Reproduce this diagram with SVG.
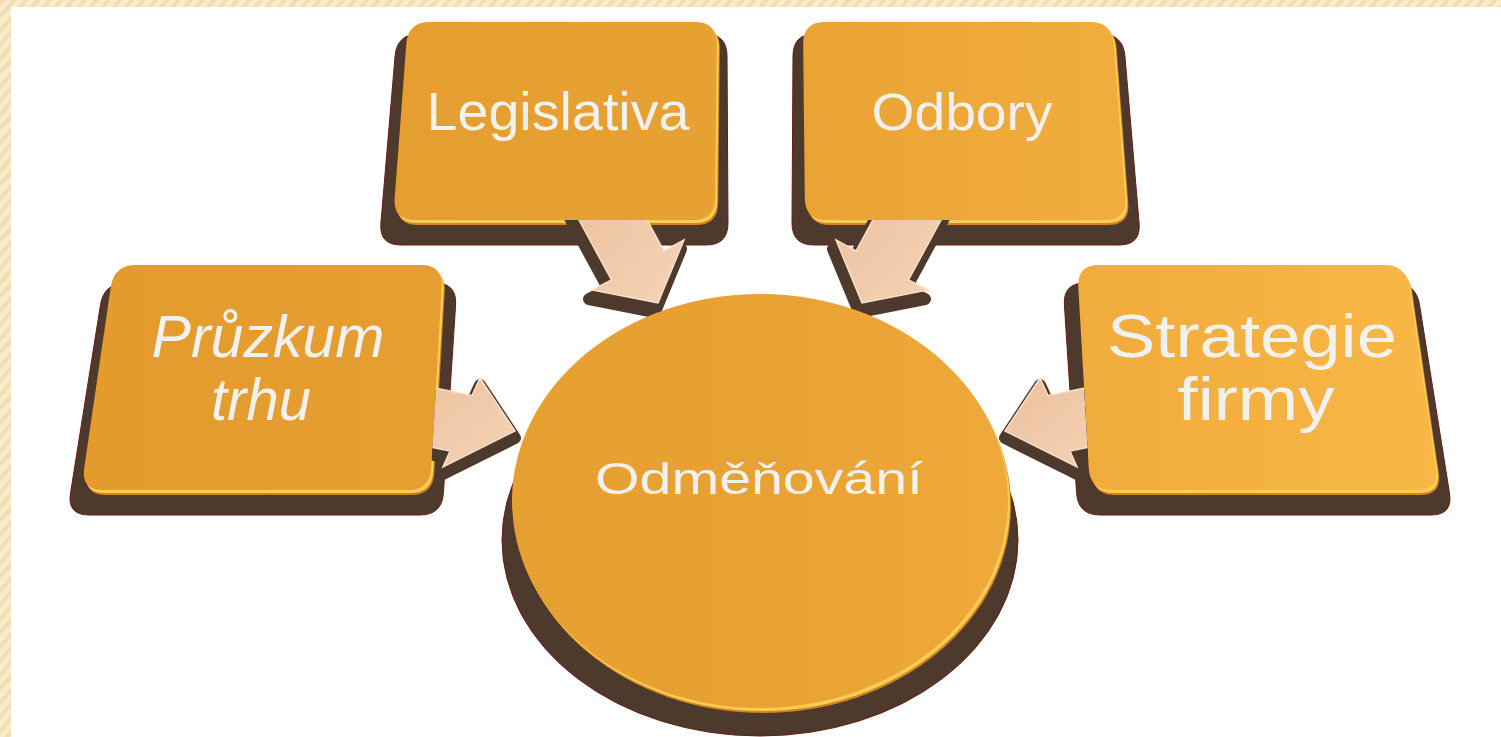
<svg xmlns="http://www.w3.org/2000/svg" width="1501" height="737" viewBox="0 0 1501 737">
  <defs>
    <style>
      .label { font-family: "Liberation Sans", Arial, sans-serif; fill: #F1F1EF; text-anchor: middle; }
      .ital { font-style: italic; }
      .depth { fill: #4E3A2D; stroke: #6A1A12; stroke-width: 1; }
      .rim-dark { fill: #CF861E; }
      .rim-light { fill: #FFCC55; }
      .face { fill: url(#faceFill); }
      .arrow { fill: url(#arrowFill); stroke: #F8E0C9; stroke-width: 1.5; stroke-linejoin: miter; }
      .arrow-depth { fill: #4E3A2D; stroke: #4E3A2D; stroke-width: 12; stroke-linejoin: round; }
    </style>
    <linearGradient id="faceFill" gradientUnits="userSpaceOnUse" x1="80" y1="0" x2="1440" y2="0">
      <stop offset="0" stop-color="#E29B2C"/>
      <stop offset="0.5" stop-color="#E8A233"/>
      <stop offset="1" stop-color="#F8B747"/>
    </linearGradient>
    <linearGradient id="arrowFill" x1="0" y1="0" x2="1" y2="1">
      <stop offset="0" stop-color="#EBC09E"/>
      <stop offset="1" stop-color="#F5D4B6"/>
    </linearGradient>
    <pattern id="paper" patternUnits="userSpaceOnUse" width="9" height="9" patternTransform="rotate(40)">
      <rect width="9" height="9" fill="#F9ECCB"/>
      <rect width="4" height="9" fill="#F1DEAF"/>
    </pattern>
    <!-- everything except the four box tops, so arrows tuck under them -->
    <clipPath id="outsideFaces">
      <path clip-rule="evenodd" d="M0,0 H1501 V737 H0 Z
        M430,22 L695,22 Q717,22 716.8,44 L715.2,198 Q715,220 693,220 L415,220 Q393,220 394.7,198.1 L406.3,43.9 Q408,22 430,22 Z
        M1090,22 L825,22 Q803,22 803.2,44 L804.8,198 Q805,220 827,220 L1105,220 Q1127,220 1125.3,198.1 L1113.7,43.9 Q1112,22 1090,22 Z
        M136,265 L421,265 Q443,265 441.7,287 L431.3,468 Q430,490 408,490 L103,490 Q81,490 84.2,468.2 L110.8,286.8 Q114,265 136,265 Z
        M1384,265 L1099,265 Q1077,265 1078.3,287 L1088.7,468 Q1090,490 1112,490 L1417,490 Q1439,490 1435.8,468.2 L1409.2,286.8 Q1406,265 1384,265 Z"/>
    </clipPath>
  </defs>

  <!-- page -->
  <rect x="0" y="0" width="1501" height="737" fill="url(#paper)"/>
  <rect x="11" y="7" width="1490" height="730" fill="#FFFFFF"/>

  <g id="node-legislativa">
    <path class="depth" d="M419,34 L705,34 Q727,34 727,56 L728,223 Q728,245 706,245 L401,245 Q379,245 380.9,223.1 L395.1,55.9 Q397,34 419,34 Z"/>
    <path class="rim-dark" transform="translate(3,5)" d="M430,22 L695,22 Q717,22 716.8,44 L715.2,198 Q715,220 693,220 L415,220 Q393,220 394.7,198.1 L406.3,43.9 Q408,22 430,22 Z"/>
    <path class="rim-light" transform="translate(2,3)" d="M430,22 L695,22 Q717,22 716.8,44 L715.2,198 Q715,220 693,220 L415,220 Q393,220 394.7,198.1 L406.3,43.9 Q408,22 430,22 Z"/>
    <path class="face" d="M430,22 L695,22 Q717,22 716.8,44 L715.2,198 Q715,220 693,220 L415,220 Q393,220 394.7,198.1 L406.3,43.9 Q408,22 430,22 Z"/>
    <text class="label" x="558" y="130" font-size="53" textLength="263" lengthAdjust="spacingAndGlyphs">Legislativa</text>
  </g>

  <g id="node-odbory">
    <path class="depth" d="M1101,34 L815,34 Q793,34 793,56 L792,223 Q792,245 814,245 L1119,245 Q1141,245 1139.1,223.1 L1124.9,55.9 Q1123,34 1101,34 Z"/>
    <path class="rim-dark" transform="translate(3,5)" d="M1090,22 L825,22 Q803,22 803.2,44 L804.8,198 Q805,220 827,220 L1105,220 Q1127,220 1125.3,198.1 L1113.7,43.9 Q1112,22 1090,22 Z"/>
    <path class="rim-light" transform="translate(2,3)" d="M1090,22 L825,22 Q803,22 803.2,44 L804.8,198 Q805,220 827,220 L1105,220 Q1127,220 1125.3,198.1 L1113.7,43.9 Q1112,22 1090,22 Z"/>
    <path class="face" d="M1090,22 L825,22 Q803,22 803.2,44 L804.8,198 Q805,220 827,220 L1105,220 Q1127,220 1125.3,198.1 L1113.7,43.9 Q1112,22 1090,22 Z"/>
    <text class="label" x="962" y="130" font-size="52" textLength="181" lengthAdjust="spacingAndGlyphs">Odbory</text>
  </g>

  <g id="node-pruzkum-trhu">
    <path class="depth" d="M126,283 L435,283 Q457,283 455.6,305 L443.4,493 Q442,515 420,515 L89,515 Q67,515 70.5,493.3 L100.5,304.7 Q104,283 126,283 Z"/>
    <path class="rim-dark" transform="translate(3,5)" d="M136,265 L421,265 Q443,265 441.7,287 L431.3,468 Q430,490 408,490 L103,490 Q81,490 84.2,468.2 L110.8,286.8 Q114,265 136,265 Z"/>
    <path class="rim-light" transform="translate(2,3)" d="M136,265 L421,265 Q443,265 441.7,287 L431.3,468 Q430,490 408,490 L103,490 Q81,490 84.2,468.2 L110.8,286.8 Q114,265 136,265 Z"/>
    <path class="face" d="M136,265 L421,265 Q443,265 441.7,287 L431.3,468 Q430,490 408,490 L103,490 Q81,490 84.2,468.2 L110.8,286.8 Q114,265 136,265 Z"/>
    <text class="label ital" x="268" y="357" font-size="59" textLength="233" lengthAdjust="spacingAndGlyphs">Průzkum</text>
    <text class="label ital" x="261" y="420" font-size="59" textLength="100" lengthAdjust="spacingAndGlyphs">trhu</text>
  </g>

  <g id="node-strategie-firmy">
    <path class="depth" d="M1394,283 L1085,283 Q1063,283 1064.4,305 L1076.6,493 Q1078,515 1100,515 L1431,515 Q1453,515 1449.5,493.3 L1419.5,304.7 Q1416,283 1394,283 Z"/>
    <path class="rim-dark" transform="translate(3,5)" d="M1384,265 L1099,265 Q1077,265 1078.3,287 L1088.7,468 Q1090,490 1112,490 L1417,490 Q1439,490 1435.8,468.2 L1409.2,286.8 Q1406,265 1384,265 Z"/>
    <path class="rim-light" transform="translate(2,3)" d="M1384,265 L1099,265 Q1077,265 1078.3,287 L1088.7,468 Q1090,490 1112,490 L1417,490 Q1439,490 1435.8,468.2 L1409.2,286.8 Q1406,265 1384,265 Z"/>
    <path class="face" d="M1384,265 L1099,265 Q1077,265 1078.3,287 L1088.7,468 Q1090,490 1112,490 L1417,490 Q1439,490 1435.8,468.2 L1409.2,286.8 Q1406,265 1384,265 Z"/>
    <text class="label" x="1252" y="357" font-size="61" textLength="290" lengthAdjust="spacingAndGlyphs">Strategie</text>
    <text class="label" x="1256" y="420" font-size="61" textLength="157" lengthAdjust="spacingAndGlyphs">firmy</text>
  </g>

  <!-- block arrows pointing into the centre; they start under the box tops -->
  <g id="connectors" clip-path="url(#outsideFaces)">
    <g id="arrow-legislativa">
      <polygon class="arrow-depth" transform="translate(-3,9)" points="573,209 611.5,280 592,290 658,303 684,240 664,251 626,181"/>
      <polygon class="arrow" points="573,209 611.5,280 592,290 658,303 684,240 664,251 626,181"/>
    </g>
    <g id="arrow-odbory">
      <polygon class="arrow-depth" transform="translate(-3,9)" points="947,209 908.5,280 928,290 862,303 836,240 856,251 894,181"/>
      <polygon class="arrow" points="947,209 908.5,280 928,290 862,303 836,240 856,251 894,181"/>
    </g>
    <g id="arrow-pruzkum">
      <polygon class="arrow-depth" transform="translate(0,7)" points="400,381 472,395.5 480,378 515,431 443,467 450,451 400,441"/>
      <polygon class="arrow" points="400,381 472,395.5 480,378 515,431 443,467 450,451 400,441"/>
    </g>
    <g id="arrow-strategie">
      <polygon class="arrow-depth" transform="translate(0,7)" points="1120,381 1048,395.5 1040,378 1005,431 1077,467 1070,451 1120,441"/>
      <polygon class="arrow" points="1120,381 1048,395.5 1040,378 1005,431 1077,467 1070,451 1120,441"/>
    </g>
  </g>

  <!-- centre disc -->
  <g id="node-odmenovani">
    <ellipse class="depth" cx="760" cy="540" rx="258" ry="196"/>
    <ellipse class="rim-dark" cx="763" cy="506" rx="248" ry="207"/>
    <ellipse class="rim-light" cx="762" cy="504" rx="248" ry="207"/>
    <ellipse class="face" cx="760" cy="501" rx="248" ry="207"/>
    <text class="label" x="759" y="494" font-size="45" textLength="328" lengthAdjust="spacingAndGlyphs">Odměňování</text>
  </g>
</svg>
